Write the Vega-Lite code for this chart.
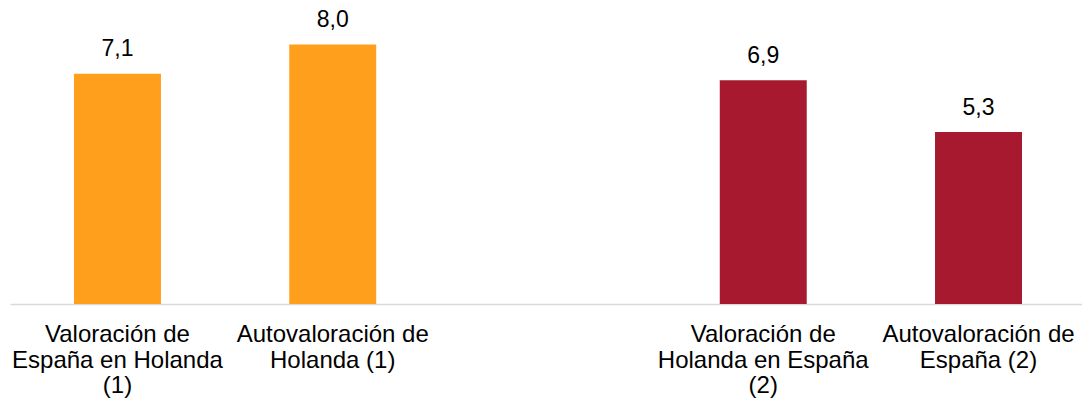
{
  "$schema": "https://vega.github.io/schema/vega-lite/v6.json",
  "autosize": {"type": "none"},
  "padding": {"left": 10, "top": 12, "right": 0, "bottom": 101},
  "width": 1072,
  "height": 292,
  "config": {"view": {"stroke": null}, "font": "Liberation Sans"},
  "data": {"values": [
    {"label": "Valoración de|España en Holanda|(1)", "group": "1", "value": 7.1, "txt": "7,1"},
    {"label": "Autovaloración de|Holanda (1)", "group": "1", "value": 8.0, "txt": "8,0"},
    {"label": "Valoración de|Holanda en España|(2)", "group": "2", "value": 6.9, "txt": "6,9"},
    {"label": "Autovaloración de|España (2)", "group": "2", "value": 5.3, "txt": "5,3"}
  ]},
  "encoding": {
    "x": {
      "field": "label", "type": "nominal",
      "scale": {
        "domain": ["Valoración de|España en Holanda|(1)", "Autovaloración de|Holanda (1)", " ", "Valoración de|Holanda en España|(2)", "Autovaloración de|España (2)"],
        "paddingInner": 0.596, "paddingOuter": 0.288, "align": 0.516
      },
      "axis": {
        "title": null, "ticks": false, "tickSize": 0, "domainColor": "#D9D9D9", "domainWidth": 1.5,
        "labelExpr": "split(datum.label, '|')", "labelAngle": 0, "labelFontSize": 24,
        "labelColor": "#000000", "labelLimit": 0, "labelOverlap": false,
        "labelBaseline": "alphabetic", "labelPadding": 37.5, "labelLineHeight": 25.5
      }
    },
    "y": {"field": "value", "type": "quantitative", "scale": {"domain": [0, 9]}, "axis": null}
  },
  "layer": [
    {
      "mark": {"type": "bar"},
      "encoding": {
        "color": {"field": "group", "type": "nominal", "scale": {"domain": ["1", "2"], "range": ["#FF9F1C", "#A6192E"]}, "legend": null}
      }
    },
    {
      "mark": {"type": "text", "baseline": "alphabetic", "dy": -17.5, "fontSize": 23, "color": "#000000"},
      "encoding": {"text": {"field": "txt"}}
    }
  ]
}
